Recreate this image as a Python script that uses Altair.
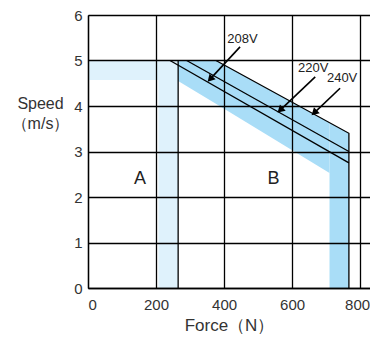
import altair as alt
import pandas as pd
import numpy as np

FONT = "Liberation Sans"

# Axes
x_ticks = [0, 200, 400, 600, 800]
y_ticks = [0, 1, 2, 3, 4, 5, 6]
x_domain = [0, 829]
y_domain = [0, 6]

# Region A (light band, L-shape as two rectangles)
a_x1 = [0, 207]
a_x2 = [265, 265]
a_y1 = [4.57, 0.0]
a_y2 = [5.0, 5.0]

# Region B (blue band): diagonal part and vertical leg
b_part = ["diag", "diag", "diag", "leg", "leg"]
b_x = [265, 376, 710, 710, 767]
b_top = [5.0, 5.0, 3.63, 3.63, 3.4]
b_bot = [4.55, 4.05, 2.53, 0.0, 0.0]

# Voltage curves and edges
line_series = ["208V", "208V", "220V", "220V", "240V", "240V", "240V", "edge", "edge"]
line_x = [241, 767, 290, 767, 376, 767, 767, 265, 265]
line_y = [5.0, 2.75, 5.0, 3.0, 5.0, 3.4, 0.0, 0.0, 5.0]

# Arrow annotations
arrow_label = ["208V", "220V", "240V"]
label_x = [454, 662, 747]
label_y = [5.48, 4.835, 4.615]
arrow_x0 = [447, 668, 741]
arrow_y0 = [5.30, 4.64, 4.39]
arrow_x1 = [359, 565, 665]
arrow_y1 = [4.59, 3.91, 3.85]

# Region labels
region_label = ["A", "B"]
region_x = [153, 545]
region_y = [2.4, 2.4]

W, H = 282, 273
px_x = W / (x_domain[1] - x_domain[0])
px_y = H / (y_domain[1] - y_domain[0])

rect_df = pd.DataFrame({"x": a_x1, "x2": a_x2, "y": a_y1, "y2": a_y2})
band_df = pd.DataFrame({"part": b_part, "x": b_x, "y": b_top, "y2": b_bot})
line_df = pd.DataFrame({"s": line_series, "x": line_x, "y": line_y, "idx": range(len(line_x))})
arr_df = pd.DataFrame({"label": arrow_label, "lx": label_x, "ly": label_y,
                       "x": arrow_x0, "y": arrow_y0, "x1": arrow_x1, "y1": arrow_y1})
dxp = (arr_df["x1"] - arr_df["x"]) * px_x
dyp = -(arr_df["y1"] - arr_df["y"]) * px_y
arr_df["angle"] = (np.degrees(np.arctan2(dxp, -dyp)) + 360) % 360
reg_df = pd.DataFrame({"label": region_label, "x": region_x, "y": region_y})

xscale = alt.Scale(domain=x_domain, nice=False)
yscale = alt.Scale(domain=y_domain, nice=False)

x_axis = alt.Axis(values=x_ticks, title="Force（N）", grid=True, gridColor="black",
                  gridWidth=1.3, domainColor="black", domainWidth=1.3, ticks=False,
                  labelFont=FONT, labelFontSize=15, labelColor="#333", labelPadding=9,
                  labelOffset=alt.expr("datum.value == 800 ? -3 : 0"),
                  titleFont=FONT, titleFontSize=17, titleFontWeight="normal",
                  titleColor="#333", titleBaseline="middle", titleY=37, zindex=1,
                  labelFlush=True)
y_axis = alt.Axis(values=y_ticks, title=["Speed", "（m/s）"], grid=True, gridColor="black",
                  gridWidth=1.3, domainColor="black", domainWidth=1.3, ticks=False,
                  labelFont=FONT, labelFontSize=15, labelColor="#333", labelPadding=6,
                  titleFont=FONT, titleFontSize=16, titleFontWeight="normal",
                  titleColor="#333", titleAngle=0, titleAlign="center",
                  titleBaseline="alphabetic", titleX=-48, titleY=93, titleLineHeight=20,
                  zindex=1)


def X(field):
    return alt.X(field, scale=xscale, axis=x_axis)


def Y(field):
    return alt.Y(field, scale=yscale, axis=y_axis)


rects = alt.Chart(rect_df).mark_rect(color="#dff2fc").encode(
    x=X("x:Q"), x2="x2:Q", y=Y("y:Q"), y2="y2:Q",
)

band = alt.Chart(band_df).mark_area(color="#a9ddf7", opacity=1).encode(
    x=X("x:Q"), y=Y("y:Q"), y2="y2:Q", detail="part:N",
)

lines = alt.Chart(line_df).mark_line(color="black", strokeWidth=1.3).encode(
    x=X("x:Q"), y=Y("y:Q"), detail="s:N", order="idx:Q",
)

shafts = alt.Chart(arr_df).mark_rule(color="black", strokeWidth=1.6).encode(
    x=X("x:Q"), y=Y("y:Q"), x2="x1:Q", y2="y1:Q",
)

heads = alt.Chart(arr_df).mark_point(shape="triangle-up", filled=True, color="black",
                                     size=70, opacity=1).encode(
    x=X("x1:Q"), y=Y("y1:Q"),
    angle=alt.Angle("angle:Q", scale=None),
)

arrow_text = alt.Chart(arr_df).mark_text(font=FONT, fontSize=13, color="#222",
                                         align="center", baseline="middle").encode(
    x=X("lx:Q"), y=Y("ly:Q"), text="label:N",
)

region_text = alt.Chart(reg_df).mark_text(font=FONT, fontSize=18, color="#222",
                                          align="center", baseline="middle").encode(
    x=X("x:Q"), y=Y("y:Q"), text="label:N",
)

chart = alt.layer(rects, band, lines, shafts, heads, arrow_text, region_text).properties(
    width=W, height=H,
    padding={"left": 80, "top": 7, "right": 0, "bottom": 46},
    autosize=alt.AutoSizeParams(type="none"),
    background="white",
).configure_view(stroke=None)

chart.save("out.html", embed_options={"renderer": "svg", "actions": False})
